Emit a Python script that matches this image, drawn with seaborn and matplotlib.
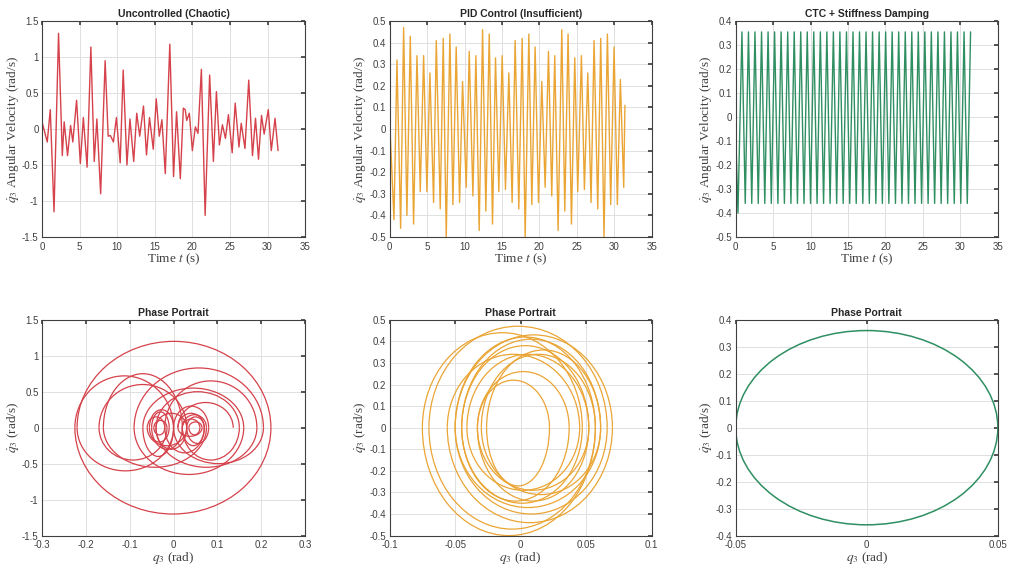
import matplotlib
matplotlib.use("Agg")
import matplotlib.pyplot as plt
from matplotlib.patches import Arc, Ellipse
from matplotlib.ticker import FuncFormatter, MultipleLocator
import pandas as pd
import seaborn as sns

# ---- data (extrema of each signal) ----
# uncontrolled: (time, angular velocity) at each turning point
unc_t = [0, 0.7, 1.1, 1.6, 2.2, 2.7, 2.95, 3.4, 3.8, 4.1, 4.6, 5.1, 5.5, 6.0, 6.5,
         6.95, 7.3, 7.8, 8.4, 8.8, 9.1, 9.5, 9.9, 10.4, 10.8, 11.3, 11.7, 12.2,
         12.6, 13.0, 13.5, 13.9, 14.3, 14.8, 15.2, 15.6, 15.95, 16.4, 17.0, 17.5,
         17.9, 18.4, 18.8, 19.05, 19.25, 19.6, 20.0, 20.4, 20.75, 21.2, 21.7, 22.3,
         22.8, 23.2, 23.6, 24.0, 24.4, 24.8, 25.3, 25.7, 26.2, 26.5, 27.0, 27.5,
         28.0, 28.4, 28.8, 29.2, 29.55, 30.1, 30.5, 31.0, 31.4]
unc_v = [0.10, -0.18, 0.27, -1.15, 1.33, -0.37, 0.10, -0.37, 0.05, -0.18, 0.40,
         -0.48, 0.16, -0.53, 1.14, -0.45, 0.14, -0.90, 0.95, -0.10, -0.09, -0.18,
         0.16, -0.47, 0.82, -0.50, 0.14, -0.45, 0.22, -0.10, 0.32, -0.36, 0.16,
         -0.28, 0.42, -0.10, 0.13, -0.62, 1.18, -0.66, 0.24, -0.69, 0.29, 0.27,
         0.12, 0.22, -0.30, 0.03, -0.06, 0.83, -1.20, 0.75, -0.45, 0.52, -0.22,
         0.06, -0.13, 0.20, -0.33, 0.36, -0.25, 0.08, -0.27, 0.68, -0.37, 0.15,
         -0.42, 0.19, -0.07, 0.27, -0.30, 0.15, -0.30]

# PID: peaks and troughs
pid_peak_t = [0.98, 1.87, 2.76, 3.65, 4.54, 5.38, 6.23, 7.16, 8.05, 8.89, 9.74,
              10.63, 11.52, 12.41, 13.30, 14.14, 15.03, 15.92, 16.76, 17.70, 18.59,
              19.43, 20.32, 21.21, 22.05, 22.99, 23.83, 24.72, 25.61, 26.46, 27.30,
              28.19, 29.08, 29.97, 30.81]
pid_peak_v = [0.32, 0.47, 0.43, 0.34, 0.34, 0.26, 0.41, 0.42, 0.44, 0.38, 0.22,
              0.36, 0.34, 0.46, 0.44, 0.33, 0.34, 0.26, 0.41, 0.42, 0.44, 0.38,
              0.22, 0.36, 0.34, 0.46, 0.44, 0.33, 0.34, 0.26, 0.41, 0.42, 0.44,
              0.38, 0.23]
pid_trough_t = [0.58, 1.47, 2.31, 3.20, 4.09, 4.98, 5.87, 6.76, 7.56, 8.45, 9.34,
                10.23, 11.12, 11.96, 12.85, 13.74, 14.58, 15.47, 16.36, 17.25,
                18.10, 18.99, 19.88, 20.77, 21.65, 22.50, 23.39, 24.28, 25.12,
                26.01, 26.90, 27.79, 28.63, 29.52, 30.41, 31.26]
pid_trough_v = [-0.42, -0.46, -0.40, -0.44, -0.29, -0.29, -0.34, -0.37, -0.50,
                -0.35, -0.34, -0.27, -0.31, -0.47, -0.38, -0.44, -0.29, -0.28,
                -0.34, -0.37, -0.50, -0.35, -0.34, -0.27, -0.31, -0.47, -0.38,
                -0.44, -0.29, -0.28, -0.34, -0.37, -0.50, -0.35, -0.35, -0.27]
pid_ends_t = [0.0, 31.42]
pid_ends_v = [0.05, 0.11]

# CTC: peaks and troughs
ctc_peak_t = [0.83, 1.70, 2.57, 3.45, 4.32, 5.19, 6.06, 6.94, 7.81, 8.68, 9.55,
              10.42, 11.30, 12.17, 13.04, 13.91, 14.79, 15.66, 16.53, 17.40, 18.27,
              19.15, 20.02, 20.89, 21.76, 22.64, 23.51, 24.38, 25.25, 26.12, 27.00,
              27.87, 28.74, 29.61, 30.49, 31.36]
ctc_trough_t = [1.27, 2.14, 3.01, 3.88, 4.75, 5.63, 6.50, 7.37, 8.24, 9.12, 9.99,
                10.86, 11.73, 12.60, 13.48, 14.35, 15.22, 16.09, 16.97, 17.84,
                18.71, 19.58, 20.45, 21.33, 22.20, 23.07, 23.94, 24.82, 25.69,
                26.56, 27.43, 28.30, 29.18, 30.05, 30.92]
ctc_peak_v = 0.355
ctc_trough_v = -0.36
ctc_start_t = [0.0, 0.3]
ctc_start_v = [-0.07, -0.40]

# phase portraits: turning points q and the extreme velocity of each half swing
unc_q = [0.01, 0.07, 0.02, 0.075, -0.16, 0.02, -0.05, -0.01, -0.055, 0.0, -0.22,
         0.222, -0.225, 0.0, -0.07, 0.16, -0.09, 0.205, 0.0, 0.08, 0.03, 0.07,
         -0.02, 0.19, -0.04, 0.03, -0.06, -0.02, -0.045, -0.015, -0.17, 0.03,
         -0.04, 0.15, 0.02, 0.06, 0.035, 0.065, 0.01, 0.136]
unc_ext = [0.20, -0.25, 0.18, -0.55, 0.75, -0.30, 0.22, -0.20, 0.25, -0.60, 1.20,
           -1.20, 0.72, -0.40, 0.55, -0.65, 0.83, -0.50, 0.30, -0.22, 0.15, -0.35,
           0.65, -0.55, 0.20, -0.25, 0.15, -0.10, 0.10, -0.45, 0.60, -0.30, 0.50,
           -0.45, 0.12, -0.10, 0.08, -0.12, 0.35]

pid_q = [-0.070, 0.066, -0.050, 0.070, -0.056, 0.045, -0.041, 0.052, -0.033, 0.037,
         -0.045, 0.061, -0.050, 0.057, -0.075, 0.047, -0.045, 0.052, -0.033, 0.022,
         -0.026, 0.061, -0.030, 0.057, -0.070]
pid_ext = [0.47, -0.40, 0.43, -0.44, 0.34, -0.29, 0.34, -0.29, 0.26, -0.34, 0.41,
           -0.37, 0.42, -0.50, 0.44, -0.35, 0.38, -0.34, 0.22, -0.27, 0.36, -0.31,
           0.34, -0.47]

ctc_q_amp = 0.05
ctc_v_amp = 0.36

RED = "#d5424b"
ORANGE = "#eaa535"
GREEN = "#2f8f62"

sns.set_theme(style="whitegrid")
plt.rcParams.update({
    "font.family": ["Liberation Sans", "DejaVu Sans"],
    "mathtext.fontset": "stix",
    "axes.unicode_minus": False,
    "axes.edgecolor": "#262626",
    "axes.linewidth": 0.8,
    "grid.color": "#e0e0e0",
    "grid.linewidth": 0.7,
    "xtick.color": "#404040",
    "ytick.color": "#404040",
    "xtick.labelsize": 7,
    "ytick.labelsize": 7,
})

fig = plt.figure(figsize=(10.12, 5.71), dpi=100)
fig.patch.set_facecolor("white")

top_bottom, bot_bottom, h = 0.585, 0.062, 0.378
lefts = [0.0415, 0.385, 0.727]
widths = [0.26, 0.259, 0.259]
axes_top = [fig.add_axes([l, top_bottom, w, h]) for l, w in zip(lefts, widths)]
axes_bot = [fig.add_axes([l, bot_bottom, w, h]) for l, w in zip(lefts, widths)]

fmt = FuncFormatter(lambda v, p: f"{round(v, 6):g}")
serif = {"family": "Liberation Serif", "size": 9.5, "color": "#404040"}


def style(ax, xlim, xstep, ylim, ystep, title, xlabel, ylabel):
    ax.set_xlim(*xlim)
    ax.set_ylim(*ylim)
    ax.xaxis.set_major_locator(MultipleLocator(xstep))
    ax.yaxis.set_major_locator(MultipleLocator(ystep))
    ax.xaxis.set_major_formatter(fmt)
    ax.yaxis.set_major_formatter(fmt)
    ax.tick_params(direction="in", length=3, top=True, right=True,
                   color="#404040")
    ax.tick_params(axis="x", pad=3.5)
    ax.tick_params(axis="y", pad=2.5)
    ax.set_title(title, fontsize=7.5, fontweight="bold", color="#262626", pad=3)
    ax.set_xlabel(xlabel, fontdict=serif, labelpad=0)
    ax.set_ylabel(ylabel, fontdict=serif, labelpad=1)
    for s in ax.spines.values():
        s.set_visible(True)
        s.set_color("#404040")


# ---- time series ----
unc = pd.DataFrame({"t": unc_t, "v": unc_v})
pid = pd.DataFrame({"t": pid_peak_t + pid_trough_t + pid_ends_t,
                    "v": pid_peak_v + pid_trough_v + pid_ends_v}).sort_values("t")
ctc = pd.DataFrame({"t": ctc_start_t + ctc_peak_t + ctc_trough_t,
                    "v": ctc_start_v + [ctc_peak_v] * len(ctc_peak_t)
                    + [ctc_trough_v] * len(ctc_trough_t)}).sort_values("t")

ylab_top = r"$\dot{q}_3$ Angular Velocity (rad/s)"
xlab_top = r"Time $t$ (s)"
for ax, df, col in zip(axes_top, [unc, pid, ctc], [RED, ORANGE, GREEN]):
    sns.lineplot(data=df, x="t", y="v", ax=ax, color=col, lw=1.0,
                 estimator=None, sort=False)

style(axes_top[0], (0, 35), 5, (-1.5, 1.5), 0.5, "Uncontrolled (Chaotic)",
      xlab_top, ylab_top)
style(axes_top[1], (0, 35), 5, (-0.5, 0.5), 0.1, "PID Control (Insufficient)",
      xlab_top, ylab_top)
style(axes_top[2], (0, 35), 5, (-0.5, 0.4), 0.1, "CTC + Stiffness Damping",
      xlab_top, ylab_top)


# ---- phase portraits: half swings as elliptical arcs ----
def draw_swings(ax, q, ext, col):
    for i, v in enumerate(ext):
        a, b = q[i], q[i + 1]
        theta = (0, 180) if v > 0 else (180, 360)
        ax.add_patch(Arc(((a + b) / 2, 0), abs(b - a), 2 * abs(v),
                         theta1=theta[0], theta2=theta[1], color=col, lw=0.9))


draw_swings(axes_bot[0], unc_q, unc_ext, RED)
draw_swings(axes_bot[1], pid_q, pid_ext, ORANGE)
axes_bot[2].add_patch(Ellipse((0, 0), 2 * ctc_q_amp, 2 * ctc_v_amp, fill=False,
                              color=GREEN, lw=1.1))

ylab_bot = r"$\dot{q}_3$ (rad/s)"
xlab_bot = r"$q_3$ (rad)"
style(axes_bot[0], (-0.3, 0.3), 0.1, (-1.5, 1.5), 0.5, "Phase Portrait",
      xlab_bot, ylab_bot)
style(axes_bot[1], (-0.1, 0.1), 0.05, (-0.5, 0.5), 0.1, "Phase Portrait",
      xlab_bot, ylab_bot)
style(axes_bot[2], (-0.05, 0.05), 0.05, (-0.4, 0.4), 0.1, "Phase Portrait",
      xlab_bot, ylab_bot)

fig.savefig("out.png", dpi=100, facecolor="white")
